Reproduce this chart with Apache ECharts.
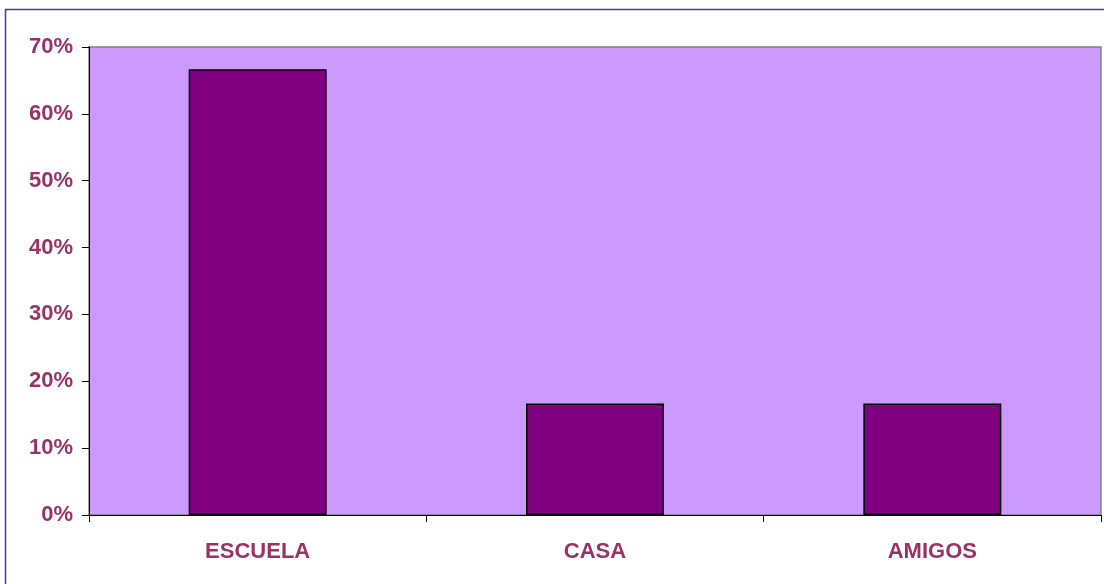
<!DOCTYPE html>
<html>
<head>
<meta charset="utf-8">
<script src="https://cdn.jsdelivr.net/npm/echarts@6/dist/echarts.min.js"></script>
<style>
html,body{margin:0;padding:0;background:#fff;}
#chart{width:1104px;height:584px;}
</style>
</head>
<body>
<div id="chart"></div>
<script>
const categories = ['ESCUELA', 'CASA', 'AMIGOS'];
const values = [66.67, 16.67, 16.67];
const yTicks = [0, 10, 20, 30, 40, 50, 60, 70];

const chart = echarts.init(document.getElementById('chart'), null, {renderer: 'canvas'});
const labelColor = '#993366';
chart.setOption({
  animation: false,
  graphic: [{
    type: 'rect',
    shape: {x: 5.5, y: 9.5, width: 1300, height: 800},
    style: {fill: 'none', stroke: '#3f3f99', lineWidth: 1.5},
    z: 100
  }],
  grid: {
    left: 89, right: 3, top: 47, bottom: 69,
    show: true,
    backgroundColor: '#CC99FF',
    borderColor: '#808080',
    borderWidth: 1.5
  },
  xAxis: {
    type: 'category',
    data: categories,
    axisLine: {show: true, lineStyle: {color: '#000', width: 1}},
    axisTick: {show: true, length: 7, lineStyle: {color: '#000'}},
    axisLabel: {
      color: labelColor, fontFamily: 'Liberation Sans, Arial, sans-serif',
      fontWeight: 'bold', fontSize: 22, margin: 26
    }
  },
  yAxis: {
    type: 'value',
    min: yTicks[0], max: yTicks[yTicks.length - 1], interval: 10,
    axisLine: {show: true, lineStyle: {color: '#000', width: 1}},
    axisTick: {show: true, length: 7, lineStyle: {color: '#000'}},
    splitLine: {show: false},
    axisLabel: {
      formatter: '{value}%',
      color: labelColor, fontFamily: 'Liberation Sans, Arial, sans-serif',
      fontWeight: 'bold', fontSize: 22, margin: 16
    }
  },
  series: [{
    type: 'bar',
    data: values,
    barWidth: 138,
    itemStyle: {color: '#800080', borderColor: '#000', borderWidth: 1.5}
  }]
});
</script>
</body>
</html>
